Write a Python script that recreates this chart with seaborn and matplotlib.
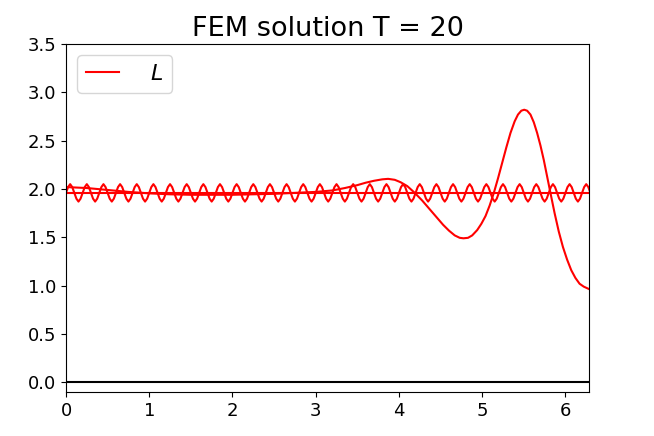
import numpy as np
import matplotlib
matplotlib.use("Agg")
import matplotlib.pyplot as plt
import seaborn as sns

# FEM solution at T = 20
fem_x = [0.0, 0.25, 0.5, 0.75, 1.0, 1.25, 1.5, 1.75, 2.0, 2.25, 2.5, 2.75, 3.0,
         3.2, 3.35, 3.5, 3.6, 3.7, 3.8, 3.87, 3.95, 4.02, 4.1, 4.19, 4.28,
         4.36, 4.45, 4.53, 4.6, 4.67, 4.73, 4.775, 4.83, 4.88, 4.94, 4.99,
         5.04, 5.09, 5.14, 5.19, 5.24, 5.29, 5.34, 5.39, 5.43, 5.47, 5.505,
         5.54, 5.58, 5.62, 5.66, 5.7, 5.74, 5.78, 5.82, 5.87, 5.92, 5.97, 6.02,
         6.07, 6.12, 6.17, 6.22, 6.283]
fem_y = [2.02, 2.01, 1.99, 1.97, 1.955, 1.945, 1.94, 1.94, 1.94, 1.945, 1.95,
         1.96, 1.97, 1.985, 2.01, 2.04, 2.065, 2.085, 2.10, 2.105, 2.095,
         2.07, 2.03, 1.96, 1.88, 1.80, 1.71, 1.63, 1.57, 1.52, 1.495, 1.49,
         1.495, 1.52, 1.575, 1.64, 1.72, 1.83, 1.96, 2.11, 2.27, 2.43, 2.58,
         2.70, 2.77, 2.81, 2.82, 2.81, 2.77, 2.69, 2.58, 2.45, 2.30, 2.13,
         1.96, 1.75, 1.56, 1.40, 1.27, 1.16, 1.08, 1.02, 0.99, 0.965]

# one cycle of the fast oscillation, sampled every 1/8 period
wave_cycle = [1.96, 2.02, 2.05, 2.02, 1.96, 1.90, 1.87, 1.90]
wave_period = 0.2
wave_cycles = 32

mean_level = 1.96
x_end = 2 * np.pi

wave_x = np.arange(len(wave_cycle) * wave_cycles) * wave_period / len(wave_cycle)
wave_y = np.tile(wave_cycle, wave_cycles)

fig = plt.figure(figsize=(6.54, 4.36), dpi=100)
ax = fig.add_axes([66 / 654, 44 / 436, 523 / 654, 348 / 436])

sns.lineplot(x=fem_x, y=fem_y, color="red", lw=1.5, label="$L$", ax=ax,
             estimator=None, sort=False)
sns.lineplot(x=wave_x, y=wave_y, color="red", lw=1.5, ax=ax,
             estimator=None, sort=False)
sns.lineplot(x=[0, x_end], y=[mean_level, mean_level], color="red", lw=1.5,
             ax=ax, estimator=None)
sns.lineplot(x=[0, x_end], y=[0, 0], color="black", lw=1.5, ax=ax,
             estimator=None)

ax.set_xlim(0, x_end)
ax.set_ylim(-0.1, 3.5)
ax.set_yticks(np.arange(0, 3.51, 0.5))
ax.tick_params(labelsize=13)
ax.set_title("FEM solution T = 20", fontsize=19.5)
ax.legend(loc="upper left", fontsize=16, handlelength=1.5, handletextpad=1.4)

fig.savefig("out.png", dpi=100)
